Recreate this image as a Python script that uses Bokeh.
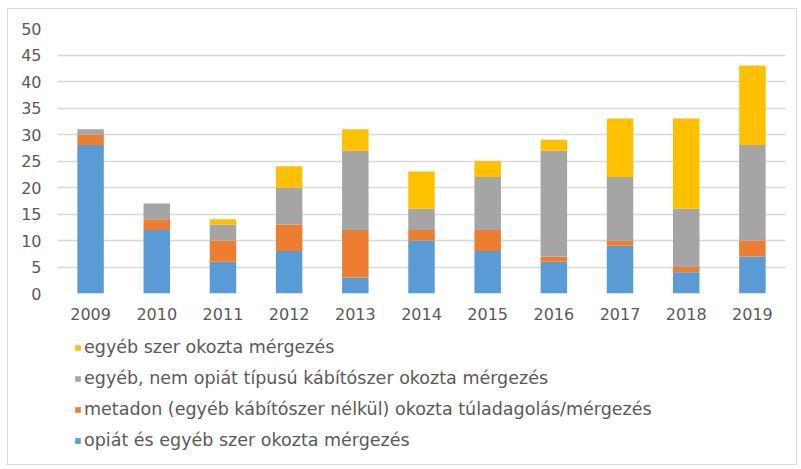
from bokeh.plotting import figure
from bokeh.layouts import column
from bokeh.models import FactorRange, Range1d, Legend, LegendItem, FixedTicker, ColumnDataSource
from bokeh.embed import file_html
from bokeh.resources import INLINE

years = ["2009", "2010", "2011", "2012", "2013", "2014", "2015", "2016", "2017", "2018", "2019"]
opiat = [28, 12, 6, 8, 3, 10, 8, 6, 9, 4, 7]
metadon = [2, 2, 4, 5, 9, 2, 4, 1, 1, 1, 3]
nem_opiat = [1, 3, 3, 7, 15, 4, 10, 20, 12, 11, 18]
egyeb_szer = [0, 0, 1, 4, 4, 7, 3, 2, 11, 17, 15]
series_labels = [
    "opiát és egyéb szer okozta mérgezés",
    "metadon (egyéb kábítószer nélkül) okozta túladagolás/mérgezés",
    "egyéb, nem opiát típusú kábítószer okozta mérgezés",
    "egyéb szer okozta mérgezés",
]
colors = ["#5B9BD5", "#ED7D31", "#A5A5A5", "#FFC000"]
y_ticks = [0, 5, 10, 15, 20, 25, 30, 35, 40, 45, 50]

keys = ["opiat", "metadon", "nem_opiat", "egyeb_szer"]
source = ColumnDataSource(dict(year=years, opiat=opiat, metadon=metadon,
                               nem_opiat=nem_opiat, egyeb_szer=egyeb_szer))

FONT = "DejaVu Sans"
TXT = "#595959"

p = figure(x_range=FactorRange(*years), y_range=Range1d(0, 50),
           width=788, height=319, output_backend="svg", toolbar_location=None,
           min_border_left=49, min_border_right=11, min_border_top=19, min_border_bottom=35)

renderers = p.vbar_stack(keys, x="year", width=0.4, fill_color=colors, line_color=None, source=source)

for ax in (p.xaxis[0], p.yaxis[0]):
    ax.axis_line_color = None
    ax.major_tick_line_color = None
    ax.minor_tick_line_color = None
    ax.major_tick_out = 0
    ax.major_tick_in = 0
    ax.minor_tick_out = 0
    ax.major_label_text_font = FONT
    ax.major_label_text_font_size = "16px"
    ax.major_label_text_color = TXT
p.xaxis.major_label_standoff = 14
p.yaxis.major_label_standoff = 16
p.yaxis.ticker = FixedTicker(ticks=y_ticks)
p.xgrid.grid_line_color = None
p.ygrid.grid_line_color = "#d9d9d9"
p.ygrid.grid_line_width = 1.5
p.outline_line_color = None

# legend panel below the chart (swatch renderers lie outside its visible range)
p2 = figure(x_range=Range1d(0, 1), y_range=Range1d(0, 1), width=788, height=136,
            output_backend="svg", toolbar_location=None,
            x_axis_type=None, y_axis_type=None,
            min_border_left=0, min_border_right=0, min_border_top=0, min_border_bottom=0)
p2.grid.visible = False
p2.outline_line_color = None
swatches = [p2.vbar(x=[0.5], bottom=[-2], top=[-1], width=0.4, fill_color=c, line_color=None)
            for c in colors]

legend = Legend(
    items=[LegendItem(label=series_labels[i], renderers=[swatches[i]]) for i in [3, 2, 1, 0]],
    location=(17, 14), orientation="vertical",
    glyph_width=7, glyph_height=7, label_height=20, spacing=11,
    padding=0, margin=0, border_line_color=None, background_fill_alpha=0,
    label_text_font=FONT, label_text_font_size="17.5px", label_text_color=TXT,
    label_standoff=3,
)
p2.add_layout(legend)

layout = column(p, p2, spacing=0,
                styles={"border": "1px solid #d9d9d9", "margin-left": "7px", "margin-top": "8px"})

open("out.html", "w").write(file_html(layout, INLINE))
